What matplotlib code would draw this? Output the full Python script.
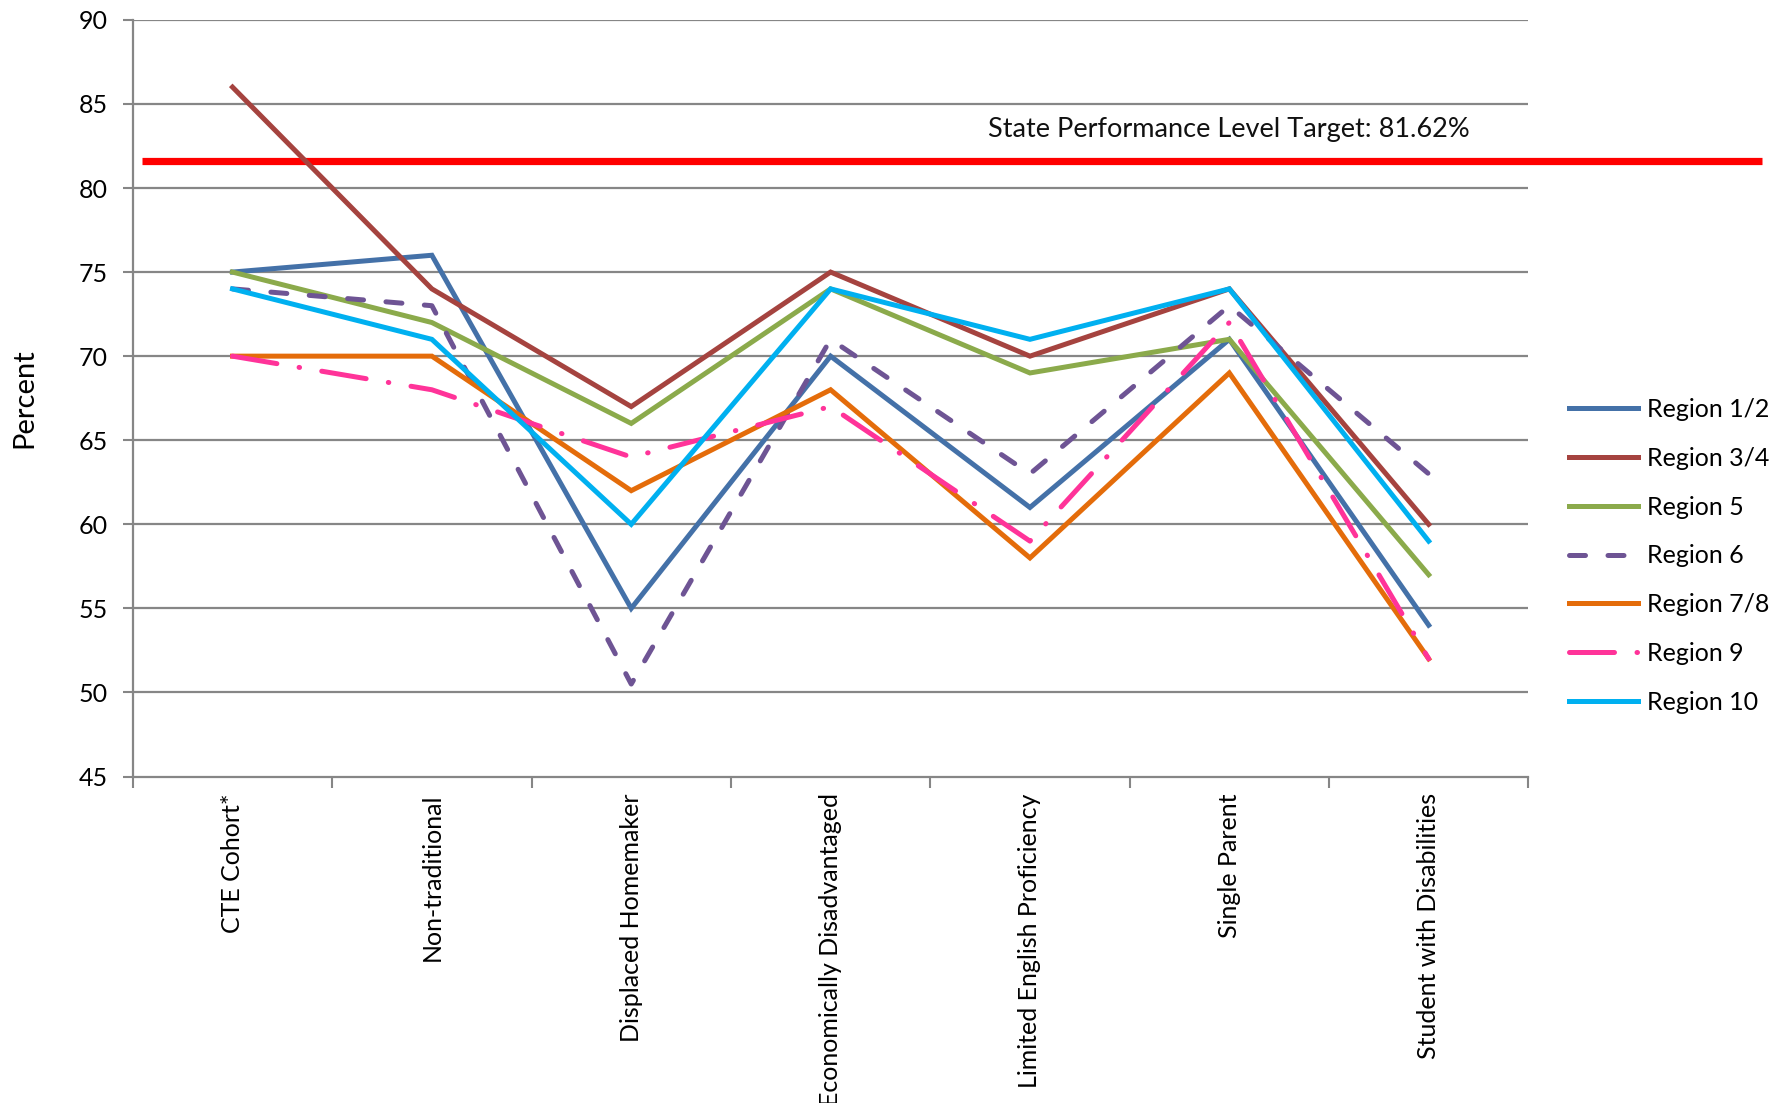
#!/usr/bin/env python3
"""
Regional performance by special population vs. state target line
"""

import matplotlib
matplotlib.use('Agg')
import matplotlib.pyplot as plt

# Categories on the x axis
CATEGORIES = [
    'CTE Cohort*',
    'Non-traditional',
    'Displaced Homemaker',
    'Economically Disadvantaged',
    'Limited English Proficiency',
    'Single Parent',
    'Student with Disabilities',
]

# Series values (percent)
REGION_1_2 = [75, 76, 55, 70, 61, 71, 54]
REGION_3_4 = [86, 74, 67, 75, 70, 74, 60]
REGION_5 = [75, 72, 66, 74, 69, 71, 57]
REGION_6 = [74, 73, 50.5, 71, 63, 73, 63]
REGION_7_8 = [70, 70, 62, 68, 58, 69, 52]
REGION_9 = [70, 68, 64, 67, 59, 72, 52]
REGION_10 = [74, 71, 60, 74, 71, 74, 59]

TARGET = 81.62
Y_TICKS = [45, 50, 55, 60, 65, 70, 75, 80, 85, 90]

FONT = 'Lato'
FS = 18
GRID = '#868686'

SERIES = [
    ('Region 1/2', REGION_1_2, '#4471A8', '-'),
    ('Region 3/4', REGION_3_4, '#A5433F', '-'),
    ('Region 5', REGION_5, '#8BAA4B', '-'),
    ('Region 6', REGION_6, '#6E5494', (0, (3.2, 4.5))),
    ('Region 7/8', REGION_7_8, '#E46C0A', '-'),
    ('Region 9', REGION_9, '#FF3399', (0, (9, 4.5, 0.1, 4.5))),
    ('Region 10', REGION_10, '#00B0F0', '-'),
]

plt.rcParams['font.family'] = [FONT, 'DejaVu Sans']

fig = plt.figure(figsize=(17.71, 11.03), dpi=100, facecolor='white')
ax = fig.add_axes([0.075, 0.296, 0.788, 0.686])

x = list(range(len(CATEGORIES)))

# gridlines
for yv in Y_TICKS[1:]:
    ax.axhline(yv, color=GRID, linewidth=1.6, zorder=1)

# state target
ax.plot([-0.455, 7.67], [TARGET, TARGET], color='#FF0000', linewidth=5.2,
        solid_capstyle='butt', clip_on=False, zorder=2)
ax.text(5.0, 83.5, f'State Performance Level Target: {TARGET:.2f}%',
        ha='center', va='center', fontsize=FS + 1.5, color='#111111')

for label, vals, color, ls in SERIES:
    ax.plot(x, vals, color=color, linestyle=ls, linewidth=3.6, label=label,
            dash_capstyle='round', solid_joinstyle='miter', zorder=3)

ax.set_xlim(-0.5, len(CATEGORIES) - 0.5)
ax.set_ylim(45, 90)
ax.set_yticks(Y_TICKS)
ax.set_yticklabels([str(v) for v in Y_TICKS], fontsize=FS)

ax.set_xticks(x)
ax.set_xticklabels(CATEGORIES, rotation=90, fontsize=FS, va='top')
ax.set_xticks([i - 0.5 for i in range(len(CATEGORIES) + 1)], minor=True)
ax.tick_params(axis='x', which='major', length=0, pad=12)
ax.tick_params(axis='x', which='minor', length=8, width=1.5, color=GRID)
ax.tick_params(axis='y', length=7, width=1.5, color=GRID, pad=11)

for side in ['top', 'right']:
    ax.spines[side].set_visible(False)
for side in ['left', 'bottom']:
    ax.spines[side].set_color(GRID)
    ax.spines[side].set_linewidth(1.6)

ax.set_ylabel('Percent', fontsize=21, labelpad=30)

fig.legend(loc='center left', bbox_to_anchor=(0.886, 0.496), frameon=False,
           fontsize=FS, handlelength=2.75, handletextpad=0.35,
           labelspacing=1.03, borderpad=0, borderaxespad=0)

plt.savefig('out.png', dpi=100, facecolor='white')
plt.close()
